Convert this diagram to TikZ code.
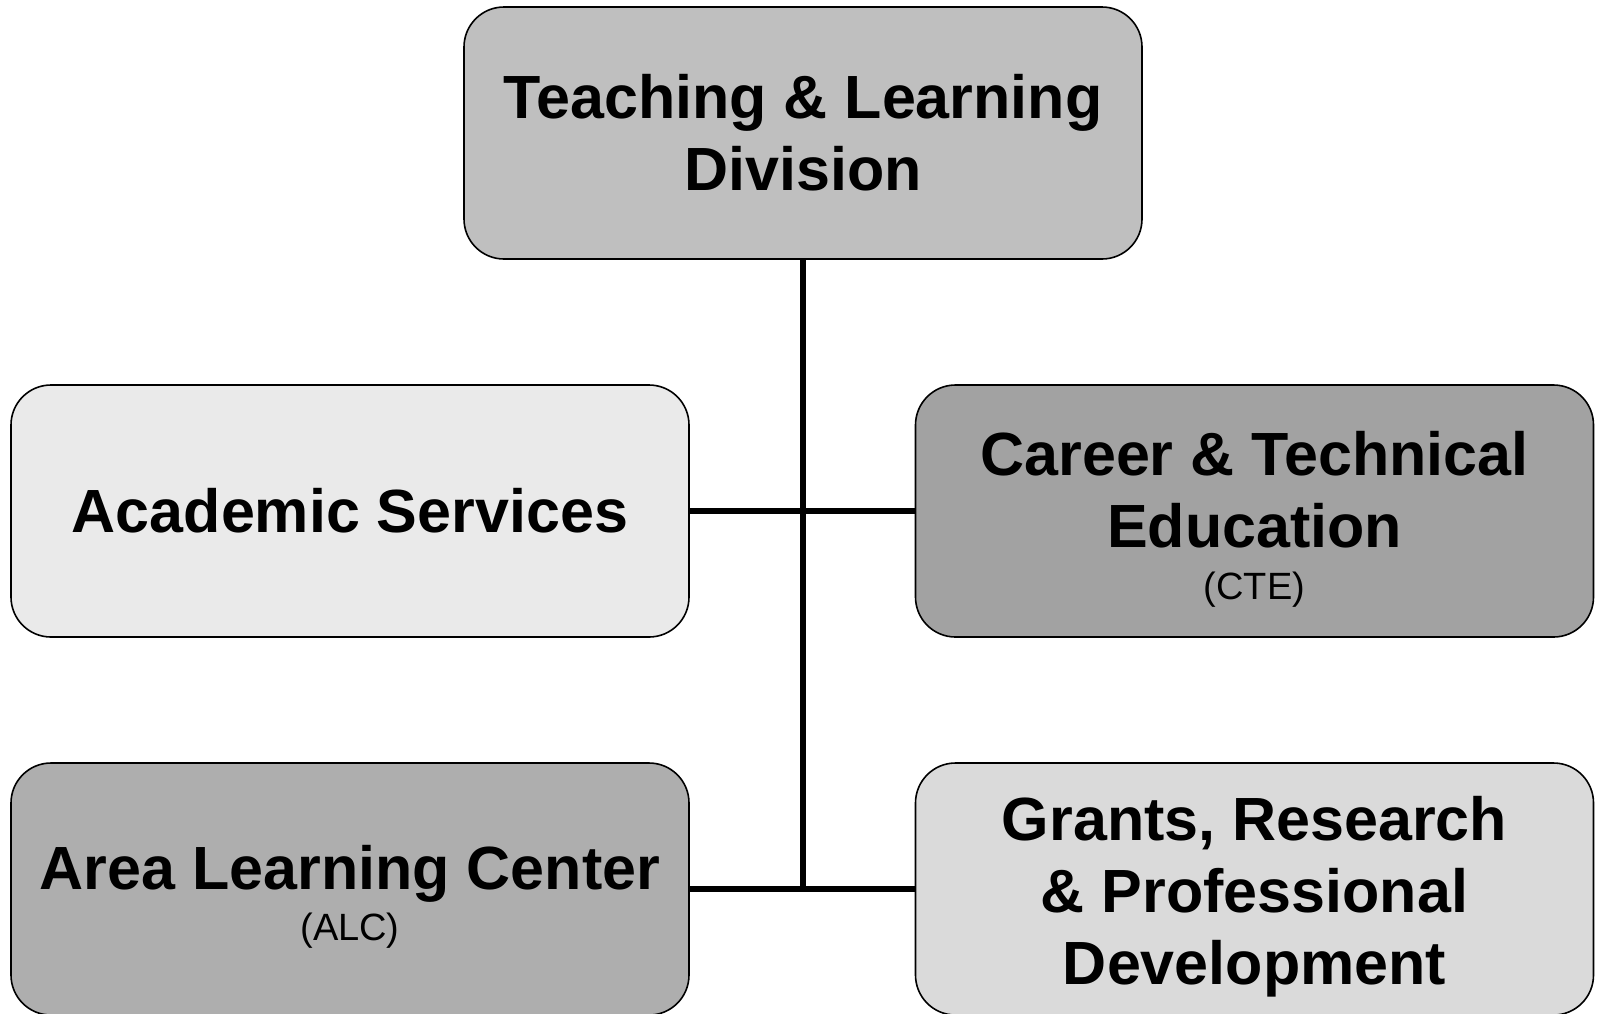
\documentclass[tikz,border=0pt]{standalone}
\usepackage{fontspec}
\setmainfont{Liberation Sans}
\usepackage{xcolor}
\definecolor{divgray}{HTML}{BFBFBF}
\definecolor{acadgray}{HTML}{EAEAEA}
\definecolor{ctegray}{HTML}{A2A2A2}
\definecolor{alcgray}{HTML}{AEAEAE}
\definecolor{grantgray}{HTML}{DADADA}
\newcommand{\abbrev}[1]{{\mdseries\fontsize{38}{52}\selectfont #1}}
\newcommand{\toppad}{\rule{0pt}{60pt}}
\begin{document}
\begin{tikzpicture}[x=1pt,y=-1pt,
  unitbox/.style={draw, line width=1.6pt, rounded corners=40pt, minimum width=678pt, minimum height=252pt, align=center, inner sep=0pt, font=\bfseries\fontsize{61}{72}\selectfont},
  link/.style={line width=6pt}]
\useasboundingbox (0,0) rectangle (1598,1013);
\node[unitbox, fill=divgray] (div) at (803,133) {Teaching \& Learning\\Division};
\node[unitbox, fill=acadgray] (acad) at (350,511) {Academic Services};
\node[unitbox, fill=ctegray] (cte) at (1254.5,511) {\toppad Career \& Technical\\Education\\[-20pt]\abbrev{(CTE)}};
\node[unitbox, fill=alcgray] (alc) at (350,889) {\toppad Area Learning Center\\[-21pt]\abbrev{(ALC)}};
\node[unitbox, fill=grantgray] (grants) at (1254.5,889) {\toppad Grants, Research\\\& Professional\\Development};
\coordinate (hub) at (div.south |- alc.east);
\draw[link] (div.south) -- (hub);
\draw[link] (acad.east) -- (cte.west);
\draw[link] (alc.east) -- (grants.west);
\end{tikzpicture}
\end{document}
